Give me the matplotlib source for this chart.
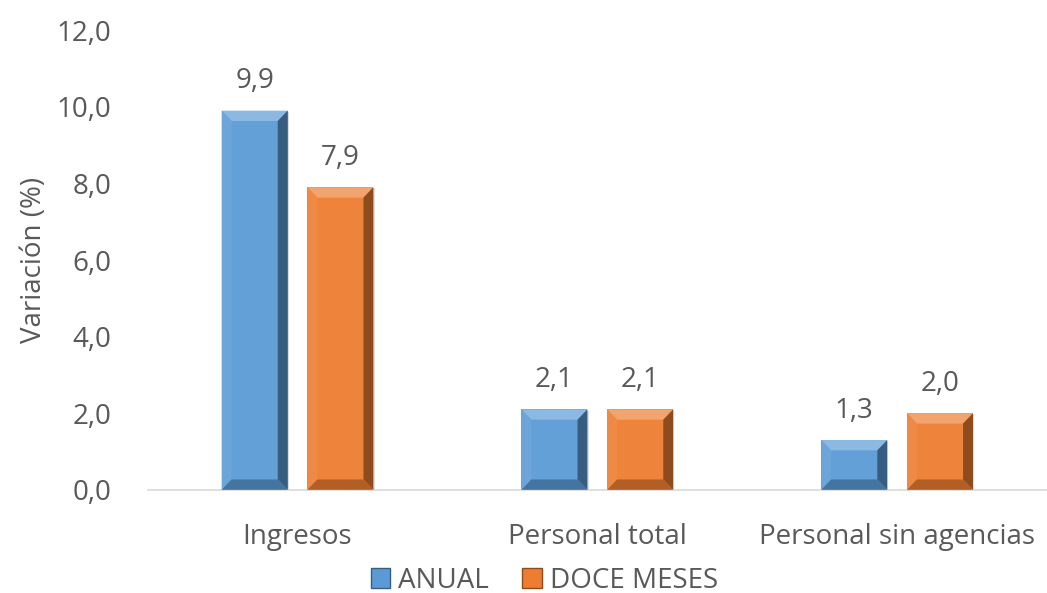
import matplotlib.pyplot as plt
import numpy as np
from matplotlib.patches import Polygon, Rectangle
from matplotlib.colors import to_rgb

categorias = ['Ingresos', 'Personal total', 'Personal sin agencias']
anual = [9.9, 2.1, 1.3]
doce_meses = [7.9, 2.1, 2.0]
series = ['ANUAL', 'DOCE MESES']
colores = ['#5B9BD5', '#ED7D31']
yticks = [0, 2, 4, 6, 8, 10, 12]

plt.rcParams['font.family'] = ['Open Sans', 'DejaVu Sans']
gris = '#595959'
fs = 20


def tono(c, f):
    r = np.array(to_rgb(c))
    if f > 0:
        return tuple(r + (1 - r) * f)
    return tuple(r * (1 + f))


def barra_bisel(ax, x0, w, h, color, bx=0.033, by=0.27):
    # barra con efecto de bisel (como el de Excel)
    by = min(by, h / 3)
    x1 = x0 + w
    ax.add_patch(Rectangle((x0, 0), w, h, facecolor=tono(color, 0.05), edgecolor='none', zorder=2))
    # cara superior
    ax.add_patch(Polygon([(x0, h), (x1, h), (x1 - bx, h - by), (x0 + bx, h - by)],
                         facecolor=tono(color, 0.3), edgecolor='none', zorder=3))
    # izquierda
    ax.add_patch(Polygon([(x0, 0), (x0, h), (x0 + bx, h - by), (x0 + bx, by)],
                         facecolor=tono(color, 0.1), edgecolor='none', zorder=3))
    # derecha
    ax.add_patch(Polygon([(x1, 0), (x1, h), (x1 - bx, h - by), (x1 - bx, by)],
                         facecolor=tono(color, -0.4), edgecolor='none', zorder=3))
    # inferior
    ax.add_patch(Polygon([(x0, 0), (x1, 0), (x1 - bx, by), (x0 + bx, by)],
                         facecolor=tono(color, -0.25), edgecolor='none', zorder=3))
    # sombra suave
    ax.add_patch(Rectangle((x0 + 0.004, 0), w, h - 0.03, facecolor='#BFBFBF', alpha=0.5,
                           edgecolor='none', zorder=1))


fig = plt.figure(figsize=(10.47, 5.93), dpi=100)
ax = fig.add_axes([0.141, 0.174, 0.859, 0.775])

x = np.arange(len(categorias))
ancho = 0.22
desp = 0.143
for i, (vals, col) in enumerate(zip([anual, doce_meses], colores)):
    for xi, v in zip(x, vals):
        xc = xi + (desp if i else -desp)
        barra_bisel(ax, xc - ancho / 2, ancho, v, col)
        ax.text(xc, v + 0.4, f'{v:.1f}'.replace('.', ','), ha='center', va='bottom',
                fontsize=fs, color=gris)

ax.set_xlim(-0.5, len(categorias) - 0.5)
ax.set_ylim(0, 12)
ax.set_yticks(yticks)
ax.set_yticklabels([f'{t:.1f}'.replace('.', ',') for t in yticks], fontsize=fs, color=gris)
ax.set_xticks(x)
ax.set_xticklabels(categorias, fontsize=fs, color=gris)
ax.tick_params(length=0)
ax.tick_params(axis='y', pad=26)
ax.tick_params(axis='x', pad=24)
for s in ['top', 'right', 'left']:
    ax.spines[s].set_visible(False)
ax.spines['bottom'].set_color('#D9D9D9')
ax.spines['bottom'].set_linewidth(1.2)
ax.set_ylabel('Variación (%)', fontsize=fs, color=gris, labelpad=6)

handles = [Rectangle((0, 0), 1, 1, facecolor=c, edgecolor=tono(c, -0.4)) for c in colores]
fig.legend(handles, series, loc='lower center', bbox_to_anchor=(0.52, -0.045), ncol=2,
           frameon=False, fontsize=fs, labelcolor=gris, handlelength=0.7, handleheight=0.7,
           handletextpad=0.3, columnspacing=1.2)

fig.savefig('out.png', dpi=100)
